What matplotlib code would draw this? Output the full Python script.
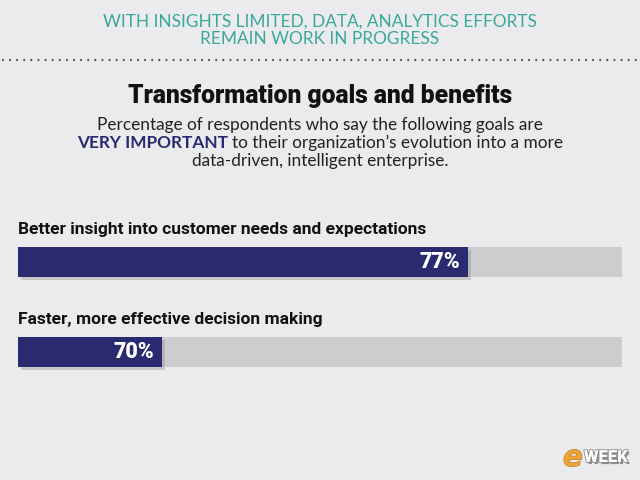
import matplotlib
matplotlib.use("Agg")
import matplotlib.pyplot as plt
import matplotlib.patheffects as pe
from matplotlib.lines import Line2D

# ---------------------------------------------------------------------------
# Data
# ---------------------------------------------------------------------------
goals = [
    "Better insight into customer needs and expectations",
    "Faster, more effective decision making",
]
pct_values = [77, 70]          # printed labels
bar_extent = [74.5, 23.8]      # drawn bar length as seen in the picture (% of track)
track_max = 100

BG = "#ebebed"
NAVY = "#2a2a70"
TRACK = "#cdcdd0"
TEAL = "#3aa89a"

fig = plt.figure(figsize=(6.4, 4.8), dpi=100, facecolor=BG)

# ---------------------------------------------------------------------------
# Header texts
# ---------------------------------------------------------------------------
fig.text(0.5, 1 - 22 / 480, "WITH INSIGHTS LIMITED, DATA, ANALYTICS EFFORTS",
         ha="center", va="center", color=TEAL, fontsize=12.4, family="Lato")
fig.text(0.5, 1 - 39 / 480, "REMAIN WORK IN PROGRESS",
         ha="center", va="center", color=TEAL, fontsize=12.4, family="Lato")
fig.add_artist(Line2D([0.003, 0.997], [1 - 60 / 480] * 2, transform=fig.transFigure,
                      color="#555555", lw=1.6, linestyle=(0, (0.8, 2.4))))

fig.text(0.5, 1 - 96 / 480, "Transformation goals and benefits",
         ha="center", va="center", color="#111111", fontsize=17.7,
         family="Roboto", weight="heavy")
fig.text(0.5, 1 - 125 / 480,
         "Percentage of respondents who say the following goals are",
         ha="center", va="center", color="#222222", fontsize=12.4, family="Lato")
fig.text(0.5, 1 - 161 / 480, "data-driven, intelligent enterprise.",
         ha="center", va="center", color="#222222", fontsize=12.4, family="Lato")

# second subtitle line: bold navy part + plain part, centred together
renderer = fig.canvas.get_renderer()
y2 = 1 - 143 / 480
t_bold = fig.text(0, y2, "VERY IMPORTANT ", ha="left", va="center",
                  color=NAVY, fontsize=12.4, family="Lato", weight="bold")
t_rest = fig.text(0, y2, "to their organization\u2019s evolution into a more",
                  ha="left", va="center", color="#222222", fontsize=12.4, family="Lato")
w_bold = t_bold.get_window_extent(renderer).width / fig.bbox.width
w_rest = t_rest.get_window_extent(renderer).width / fig.bbox.width
x0 = 0.5 - (w_bold + w_rest) / 2
t_bold.set_x(x0)
t_rest.set_x(x0 + w_bold)

# ---------------------------------------------------------------------------
# Bars
# ---------------------------------------------------------------------------
ax = fig.add_axes([18 / 640, 1 - 379 / 480, 604 / 640, 166.5 / 480])
ax.set_facecolor("none")
ypos = list(range(len(goals)))
ax.barh(ypos, [track_max] * len(goals), height=0.333, color=TRACK, zorder=1)
bars = ax.barh(ypos, bar_extent, height=0.333, color=NAVY, zorder=2)
for b in bars:
    b.set_path_effects([pe.SimplePatchShadow(offset=(2, -2), shadow_rgbFace="#888888",
                                             alpha=0.35), pe.Normal()])

for y, g, v, ext in zip(ypos, goals, pct_values, bar_extent):
    ax.text(0, y - 0.36, g, ha="left", va="center", fontsize=12.5,
            family="Roboto", weight="bold", color="#111111")
    ax.text(ext - 1.2, y, f"{v}%", ha="right", va="center", fontsize=15.5,
            family="Roboto", weight="heavy", color="white", zorder=3)

ax.set_xlim(0, track_max)
ax.set_ylim(1.3, -0.55)
ax.axis("off")

# ---------------------------------------------------------------------------
# eWEEK logo
# ---------------------------------------------------------------------------
fig.text(563 / 640, 1 - 458 / 480, "e", ha="left", va="center",
         fontsize=21, family="DejaVu Sans", weight="bold", style="oblique",
         color="#eaa53a",
         path_effects=[pe.withStroke(linewidth=0.8, foreground="#b8761f")])
fig.text(584 / 640, 1 - 457 / 480, "WEEK", ha="left", va="center",
         fontsize=12, family="Roboto", weight="heavy",
         color="white",
         path_effects=[pe.withSimplePatchShadow(offset=(1.5, -1.5), alpha=0.6),
                       pe.withStroke(linewidth=1.2, foreground="#8a8a8a")])

fig.savefig("out.png", dpi=100, facecolor=BG)
